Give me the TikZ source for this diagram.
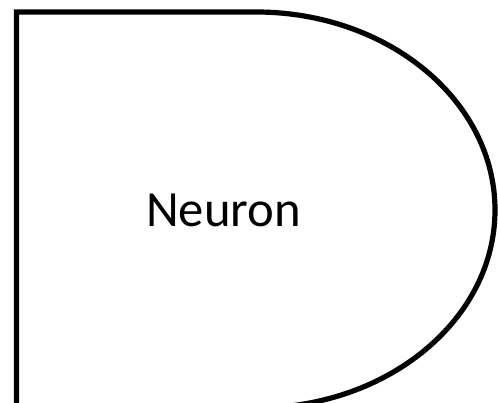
\documentclass[tikz,border=0pt]{standalone}
\usepackage{fontspec}
\setmainfont{Carlito}
\usepackage{xcolor}
\usetikzlibrary{positioning}

\begin{document}
\begin{tikzpicture}[
    x=0.75pt, y=0.75pt,
    gate/.style={draw=black, line width=3.9pt, line join=miter},
    caption/.style={inner sep=0pt, font=\fontsize{38}{44}\selectfont}
  ]

    \useasboundingbox (0,0) rectangle (498,402);
    \clip (0,0) rectangle (498,402);

    % delay-shaped body
    \draw[gate] (16.5,-6) -- (16.5,390) -- (256,390)
      arc[start angle=90, end angle=-90, x radius=239, y radius=198];

    \node[caption] (neuron) at (223.5,192) {Neuron};

  \end{tikzpicture}
\end{document}
